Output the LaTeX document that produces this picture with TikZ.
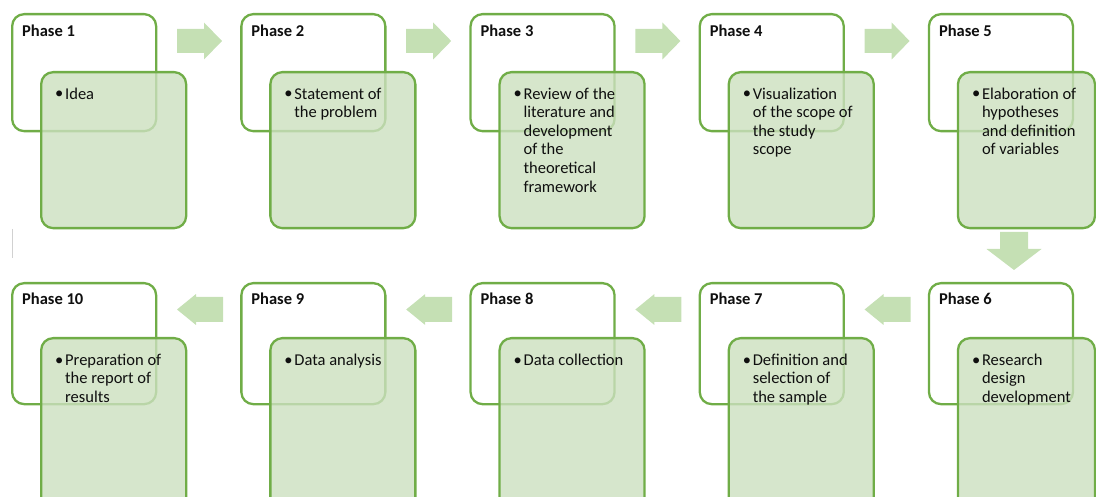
\documentclass[tikz,border=0pt]{standalone}
\usepackage{fontspec}
\setmainfont{Carlito}
\definecolor{grn}{RGB}{112,173,71}
\definecolor{innerfill}{RGB}{204,224,191}
\definecolor{arrfill}{RGB}{197,224,180}
\definecolor{txt}{RGB}{15,15,15}
\tikzset{
  outerbox/.style={draw=grn, line width=2.3pt, rounded corners=12pt, fill=white, anchor=north west, inner sep=0pt},
  innerbox/.style={draw=grn, line width=2.3pt, rounded corners=12pt, fill=innerfill, fill opacity=0.8, draw opacity=1, anchor=north west, inner sep=0pt},
  phasetitle/.style={anchor=base west, inner sep=0pt, text=txt, font=\fontsize{16.5}{18.6}\selectfont\bfseries},
  bulletmark/.style={anchor=base west, inner sep=0pt, text=txt, font=\fontsize{16.5}{18.6}\selectfont},
  bodytext/.style={anchor=north west, inner sep=0pt, align=left, text=txt, font=\fontsize{16.5}{18.6}\selectfont},
  rightarr/.pic={\fill[arrfill] (0,-12) -- (27,-12) -- (27,-18.5) -- (45,0) -- (27,18.5) -- (27,12) -- (0,12) -- cycle;},
  leftarr/.pic={\fill[arrfill] (0,0) -- (19,-15.5) -- (19,-12.5) -- (46,-12.5) -- (46,12.5) -- (19,12.5) -- (19,15.5) -- cycle;},
  downarr/.pic={\fill[arrfill] (-14,0) -- (14,0) -- (14,17) -- (27.5,17) -- (0,38) -- (-27.5,17) -- (-14,17) -- cycle;}
}
\newcommand{\strutA}{\rule{0pt}{14pt}}
\begin{document}
\begin{tikzpicture}[x=1pt,y=-1pt]
\useasboundingbox (0,0) rectangle (1096,497);
\clip (0,0) rectangle (1096,497);

% ---------- top row ----------
\node[outerbox, minimum width=144pt, minimum height=117pt] (o1) at (11,13) {};
\node[outerbox, minimum width=144pt, minimum height=117pt] (o2) at (240.2,13) {};
\node[outerbox, minimum width=144pt, minimum height=117pt] (o3) at (469.4,13) {};
\node[outerbox, minimum width=144pt, minimum height=117pt] (o4) at (698.6,13) {};
\node[outerbox, minimum width=144pt, minimum height=117pt] (o5) at (927.8,13) {};

\node[innerbox, minimum width=145pt, minimum height=156pt] (i1) at (40,71) {};
\node[innerbox, minimum width=145pt, minimum height=156pt] (i2) at (269.2,71) {};
\node[innerbox, minimum width=145pt, minimum height=156pt] (i3) at (498.4,71) {};
\node[innerbox, minimum width=145pt, minimum height=156pt] (i4) at (727.6,71) {};
\node[innerbox, minimum width=137pt, minimum height=156pt] (i5) at (956.8,71) {};

\node[phasetitle] (t1) at (22,37) {Phase 1};
\node[phasetitle] (t2) at (251.2,37) {Phase 2};
\node[phasetitle] (t3) at (480.4,37) {Phase 3};
\node[phasetitle] (t4) at (709.6,37) {Phase 4};
\node[phasetitle] (t5) at (938.8,37) {Phase 5};

\node[bulletmark] (b1) at (55,99) {\textbullet};
\node[bulletmark] (b2) at (284.2,99) {\textbullet};
\node[bulletmark] (b3) at (513.4,99) {\textbullet};
\node[bulletmark] (b4) at (742.6,99) {\textbullet};
\node[bulletmark] (b5) at (971.8,99) {\textbullet};

\node[bodytext] (x1) at (65,85) {\strutA Idea};
\node[bodytext] (x2) at (294.2,85) {\strutA Statement of\\the problem};
\node[bodytext] (x3) at (523.4,85) {\strutA Review of the\\literature and\\development\\of the\\theoretical\\framework};
\node[bodytext] (x4) at (752.6,85) {\strutA Visualization\\of the scope of\\the study\\scope};
\node[bodytext] (x5) at (981.8,85) {\strutA Elaboration of\\hypotheses\\and definition\\of variables};

% ---------- bottom row ----------
\node[outerbox, minimum width=144pt, minimum height=121pt] (o10) at (11,282) {};
\node[outerbox, minimum width=144pt, minimum height=121pt] (o9) at (240.2,282) {};
\node[outerbox, minimum width=144pt, minimum height=121pt] (o8) at (469.4,282) {};
\node[outerbox, minimum width=144pt, minimum height=121pt] (o7) at (698.6,282) {};
\node[outerbox, minimum width=144pt, minimum height=121pt] (o6) at (927.8,282) {};

\node[innerbox, minimum width=145pt, minimum height=200pt] (i10) at (40,337) {};
\node[innerbox, minimum width=145pt, minimum height=200pt] (i9) at (269.2,337) {};
\node[innerbox, minimum width=145pt, minimum height=200pt] (i8) at (498.4,337) {};
\node[innerbox, minimum width=145pt, minimum height=200pt] (i7) at (727.6,337) {};
\node[innerbox, minimum width=137pt, minimum height=200pt] (i6) at (956.8,337) {};

\node[phasetitle] (t10) at (22,305) {Phase 10};
\node[phasetitle] (t9) at (251.2,305) {Phase 9};
\node[phasetitle] (t8) at (480.4,305) {Phase 8};
\node[phasetitle] (t7) at (709.6,305) {Phase 7};
\node[phasetitle] (t6) at (938.8,305) {Phase 6};

\node[bulletmark] (b10) at (55,365) {\textbullet};
\node[bulletmark] (b9) at (284.2,365) {\textbullet};
\node[bulletmark] (b8) at (513.4,365) {\textbullet};
\node[bulletmark] (b7) at (742.6,365) {\textbullet};
\node[bulletmark] (b6) at (971.8,365) {\textbullet};

\node[bodytext] (x10) at (65,351) {\strutA Preparation of\\the report of\\results};
\node[bodytext] (x9) at (294.2,351) {\strutA Data analysis};
\node[bodytext] (x8) at (523.4,351) {\strutA Data collection};
\node[bodytext] (x7) at (752.6,351) {\strutA Definition and\\selection of\\the sample};
\node[bodytext] (x6) at (981.8,351) {\strutA Research\\design\\development};

% ---------- block arrows ----------
\pic at (177,41) {rightarr};
\pic at (406.2,41) {rightarr};
\pic at (635.4,41) {rightarr};
\pic at (864.6,41) {rightarr};
\pic at (1014,232) {downarr};
\pic at (864.6,309.5) {leftarr};
\pic at (635.4,309.5) {leftarr};
\pic at (406.2,309.5) {leftarr};
\pic at (177,309.5) {leftarr};

% small grey mark
\draw[black!18, line width=1pt] (12,229) -- (12,258);
\end{tikzpicture}
\end{document}
